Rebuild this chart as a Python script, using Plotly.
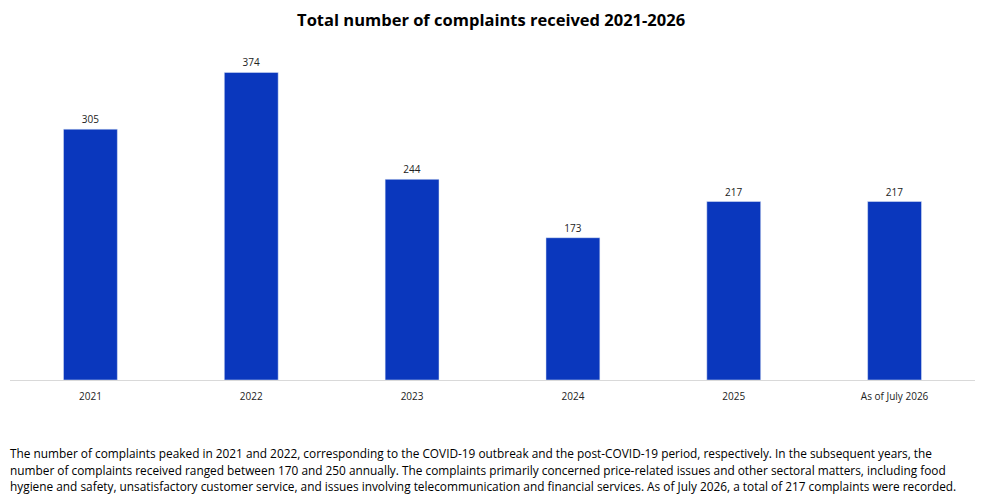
import plotly.graph_objects as go

categories = ["2021", "2022", "2023", "2024", "2025", "As of July 2026"]
complaints = [305, 374, 244, 173, 217, 217]

title = "Total number of complaints received 2021-2026"
note_lines = [
    "The number of complaints peaked in 2021 and 2022, corresponding to the COVID-19 outbreak and the post-COVID-19 period, respectively. In the subsequent years, the",
    "number of complaints received ranged between 170 and 250 annually. The complaints primarily concerned price-related issues and other sectoral matters, including food",
    "hygiene and safety, unsatisfactory customer service, and issues involving telecommunication and financial services. As of July 2026, a total of 217 complaints were recorded.",
]

font_main = "Open Sans, Liberation Sans, Arial, sans-serif"

fig = go.Figure(go.Bar(
    x=categories,
    y=complaints,
    marker_color="#0a37bd",
    text=complaints,
    textposition="outside",
    textfont=dict(size=10, color="#222"),
    cliponaxis=False,
))

annotations = []
for i, line in enumerate(note_lines):
    annotations.append(dict(
        text=line, xref="paper", yref="paper",
        x=-0.002, y=-0.222 - i * 0.0502, xanchor="left", yanchor="middle",
        showarrow=False, align="left",
        font=dict(size=11.85, color="#000", family=font_main),
    ))

fig.update_layout(
    title=dict(text="<b>" + title + "</b>", x=0.486, xanchor="center", y=0.976, yanchor="middle",
               font=dict(size=16.5, color="#000", family=font_main)),
    width=994, height=498,
    margin=dict(l=2, r=27, t=43, b=126),
    paper_bgcolor="white", plot_bgcolor="white",
    bargap=0.665,
    showlegend=False,
    font=dict(family=font_main),
    xaxis=dict(showline=True, linecolor="#d9d9d9", linewidth=1, ticks="",
               ticklabelstandoff=7, tickfont=dict(size=10, color="#222")),
    yaxis=dict(range=[0, 400], visible=False, showgrid=False),
    annotations=annotations,
)

fig.write_html("out.html")
